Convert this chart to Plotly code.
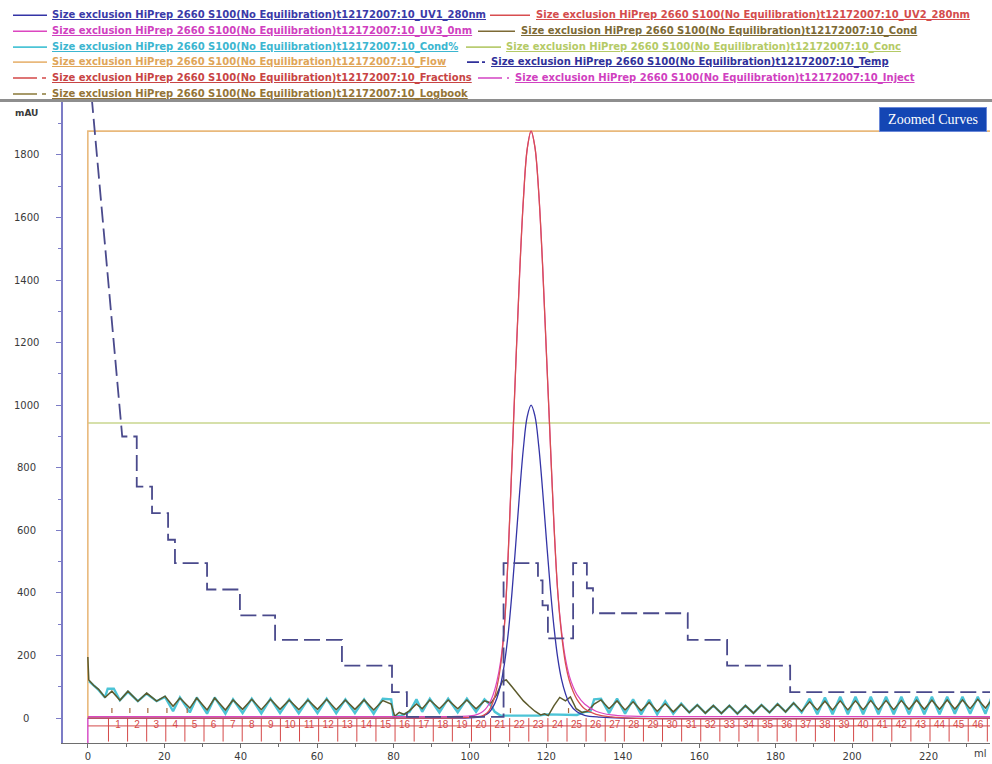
import plotly.graph_objects as go

# ---------------- data ----------------
PREFIX = "Size exclusion HiPrep 2660 S100(No Equilibration)t12172007:10_"

x_tick_vals = [0, 20, 40, 60, 80, 100, 120, 140, 160, 180, 200, 220]
y_tick_vals = [0, 200, 400, 600, 800, 1000, 1200, 1400, 1600, 1800]

uv1_ml = [0, 95, 100, 103, 104, 105, 106, 107, 108, 109, 110, 111, 112, 113, 114, 115, 116,
          117, 118, 119, 120, 121, 122, 123, 124, 125, 126, 128, 130, 134, 140, 236.5]
uv1_mau = [0, 0, 1, 5, 10, 18, 35, 62, 105, 172, 269, 401, 558, 720, 864, 964, 1000,
           966, 870, 730, 572, 420, 290, 190, 122, 78, 48, 20, 9, 3, 0, 0]

uv2_ml = [0, 95, 100, 103, 104, 105, 106, 107, 108, 109, 110, 111, 112, 113, 114, 115, 116,
          117, 118, 119, 120, 121, 122, 123, 124, 125, 126, 127, 128, 130, 133, 137, 142, 236.5]
uv2_mau = [0, 0, 2, 6, 12, 24, 50, 95, 165, 290, 520, 820, 1130, 1420, 1660, 1820, 1876,
           1825, 1680, 1450, 1170, 890, 615, 400, 265, 175, 120, 85, 60, 30, 12, 4, 0, 0]

uv3_ml = [0, 95, 100, 102, 103, 104, 105, 106, 107, 108, 109, 110, 111, 112, 113, 114, 115, 116,
          117, 118, 119, 120, 121, 122, 123, 124, 125, 126, 127, 128, 130, 133, 137, 142, 150, 236.5]
uv3_mau = [5, 5, 7, 12, 18, 28, 45, 72, 115, 180, 295, 520, 820, 1130, 1420, 1660, 1820, 1876,
           1825, 1680, 1450, 1170, 890, 615, 400, 275, 190, 135, 100, 75, 45, 22, 10, 6, 5, 5]

cond_ml = [0, 0.25, 1.5, 2.8, 4.5, 6.3, 8.4, 10.5, 13.1, 15.4, 18.0, 20.2, 22.3, 24.1, 26.7, 28.5,
           31.2, 33.2, 36.0, 38.0,
           40.5, 42.9, 45.4, 47.8, 50.3, 52.7, 55.2, 57.6, 60.1, 62.5, 65.0, 67.4, 69.9, 72.3,
           74.8, 77.2,
           79.4, 80.3, 81.5, 82.8, 84.2, 86.0, 87.5, 89.5, 92.0, 94.3, 96.8, 99.2, 101.6, 103.8,
           105.5, 107.0, 108.5, 109.5, 111.0, 112.5, 114.0, 115.5, 117.0, 118.5, 119.5, 120.5,
           122.0, 123.5, 125.0, 126.3, 127.8, 129.3, 130.8, 132.5, 134.3,
           136.4, 138.5, 140.6, 142.7, 144.8, 146.9, 149.0, 151.1, 153.2, 155.3, 157.4, 159.5,
           161.6, 163.7, 165.8, 167.9, 170.0, 172.1, 174.2, 176.3, 178.4, 180.5, 182.6, 184.7,
           186.8, 188.9,
           190.9, 192.9, 194.9, 196.9, 198.9, 200.9, 202.9, 204.9, 206.9, 208.9, 210.9, 212.9,
           214.9, 216.9, 218.9, 220.9, 222.9, 224.9, 226.9, 228.9, 230.9, 232.9, 234.9, 236.5]
cond_val = [195, 122, 105, 92, 66, 86, 57, 86, 54, 80, 54, 70, 38, 64, 32, 64, 26, 64, 26, 58,
            28, 60, 27, 60, 28, 58, 27, 58, 28, 60, 27, 58, 28, 58, 26, 56,
            45, 6, 18, 12, 24, 45, 30, 58, 30, 58, 30, 58, 30, 55, 48, 75, 118, 122, 100, 78,
            55, 38, 22, 10, 14, 8, 40, 66, 55, 68, 30, 18, 22, 45, 58,
            30, 55, 26, 52, 24, 50, 22, 46, 20, 44, 18, 42, 16, 40, 15, 40, 14, 40, 16, 42,
            18, 45, 20, 48, 22, 52,
            26, 54, 26, 55, 26, 55, 27, 56, 27, 56, 27, 56, 28, 57, 28, 57, 28, 58, 29, 58,
            30, 60, 32, 58]

condpct_ml = [0.3, 1.5, 2.8, 4.5, 5.2, 6.8, 8.4, 10.5, 13.1, 15.4, 18.0, 20.2,
              22.3, 24.1, 26.7, 28.5, 31.2, 33.2, 36.0, 38.0, 40.5, 42.9, 45.4, 47.8, 50.3,
              52.7, 55.2, 57.6, 60.1, 62.5, 65.0, 67.4, 69.9, 72.3, 74.8, 77.2, 79.4, 80.0,
              82.0, 84.2,
              86.0, 87.5, 89.5, 92.0, 94.3, 96.8, 99.2, 101.6, 103.8, 105.5,
              106.5, 108.0, 118.0, 120.0, 128.0, 130.0,
              131.5, 132.5, 134.3, 136.4, 138.5, 140.6, 142.7, 144.8, 146.9, 149.0, 151.1,
              153.2, 155.3,
              157.4, 159.5, 161.6, 163.7, 165.8, 167.9, 170.0, 172.1, 174.2, 176.3, 178.4,
              180.5, 182.6, 184.7, 186.8,
              188.9, 190.9, 192.9, 194.9, 196.9, 198.9, 200.9, 202.9, 204.9, 206.9, 208.9,
              210.9, 212.9, 214.9, 216.9, 218.9, 220.9, 222.9, 224.9, 226.9, 228.9, 230.9,
              232.9, 234.9, 236.5]
condpct_val = [118, 104, 90, 66, 94, 94, 57, 84, 54, 78, 54, 68,
               22, 66, 18, 66, 14, 66, 14, 60, 16, 62, 15, 62, 16, 60, 15, 60, 16, 62, 15, 60,
               16, 60, 14, 62, 60, 4, 8, 20,
               60, 20, 62, 18, 62, 18, 62, 20, 60, 40,
               20, 8, 8, 12, 10, 20,
               20, 60, 62, 16, 62, 14, 60, 12, 58, 12, 54, 14, 46,
               18, 42, 16, 40, 15, 40, 14, 40, 16, 42, 18, 45, 20, 48, 18,
               62, 12, 66, 12, 68, 12, 68, 12, 68, 12, 68, 12, 68, 12, 68, 12, 68, 12, 68, 14,
               68, 14, 68, 14, 66]

conc_ml = [0, 236.5]
conc_val = [943, 943]

flow_ml = [0, 0, 236.5]
flow_val = [0, 1876, 1876]

temp_ml = [1.0, 9.0, 12.8, 12.8, 16.8, 16.8, 21.0, 21.0, 22.8, 22.8, 31.2, 31.2, 39.8, 39.8,
           49.0, 49.0, 66.5, 66.5, 79.6, 79.6, 83.5, 83.5, 108.8, 108.8, 117.8, 117.8, 119.0,
           119.0, 120.4, 120.4, 127.0, 127.0, 130.6, 130.6, 132.2, 132.2, 157.0, 157.0, 167.3,
           167.3, 183.8, 183.8, 236.5]
temp_val = [1985, 900, 900, 740, 740, 655, 655, 570, 570, 495, 495, 411, 411, 328, 328, 250,
            250, 168, 168, 83, 83, 4, 4, 495, 495, 440, 440, 360, 360, 255, 255, 495, 495, 415,
            415, 335, 335, 250, 250, 168, 168, 83, 83]

frac_bounds_ml = [5.4, 10.4, 15.4, 20.4, 25.4, 30.4, 35.4, 40.4, 45.4, 50.4, 55.4, 60.4, 65.4,
                  70.4, 75.4, 80.4, 85.4, 90.4, 95.4, 100.4, 105.4, 110.4, 115.4, 120.4, 125.4,
                  130.4, 135.4, 140.4, 145.4, 150.4, 155.4, 160.4, 165.4, 170.4, 175.4, 180.4,
                  185.4, 190.4, 195.4, 200.4, 205.4, 210.4, 215.4, 220.4, 225.4, 230.4, 235.4]
frac_labels = ["1", "2", "3", "4", "5", "6", "7", "8", "9", "10", "11", "12", "13", "14", "15",
               "16", "17", "18", "19", "20", "21", "22", "23", "24", "25", "26", "27", "28", "29",
               "30", "31", "32", "33", "34", "35", "36", "37", "38", "39", "40", "41", "42", "43",
               "44", "45", "46"]
frac_ml = [0, 236.5]
frac_val = [-25, -25]
frac_tick_top, frac_tick_bottom = 0, -75

inject_ml = [0]
inject_top, inject_bottom = 0, -80

logbook_ml = [6.3, 11.0, 15.7, 20.7, 26.0, 110.6, 125.8]
logbook_top, logbook_bottom = 32, 16

# ---------------- styles ----------------
C_UV1 = "#3434a6"
C_UV2 = "#d84e50"
C_UV3 = "#dc46c0"
C_COND = "#5c5a2c"
C_CONDPCT = "#4cc4d6"
C_CONC = "#c9d68e"
C_FLOW = "#e9b97c"
C_TEMP = "#4a4a8c"
C_FRAC = "#d44848"
C_INJECT = "#d444c4"
C_LOG = "#a4683c"

L, R, T, B = 63, 2, 102, 19
W, H = 992, 764
PW, PH = W - L - R, H - T - B


def px(x):
    return (x - L) / PW


def py(y):
    return (H - B - y) / PH


fig = go.Figure()


def add_line(x, y, color, width=1.2, dash="solid", shape="linear"):
    fig.add_trace(go.Scatter(x=x, y=y, mode="lines", hoverinfo="skip",
                             line=dict(color=color, width=width, dash=dash, shape=shape)))


def segments(xs, y0, y1):
    sx, sy = [], []
    for v in xs:
        sx += [v, v, None]
        sy += [y0, y1, None]
    return sx, sy


add_line(conc_ml, conc_val, C_CONC, 1.6)
add_line(flow_ml, flow_val, C_FLOW, 1.6)
add_line(frac_ml, frac_val, C_FRAC, 1.0)
fx, fy = segments(frac_bounds_ml, frac_tick_top, frac_tick_bottom)
add_line(fx, fy, C_FRAC, 1.0)
ix, iy = segments(inject_ml, inject_top, inject_bottom)
add_line(ix, iy, C_INJECT, 1.4)

frac_centers = [(frac_bounds_ml[i] + frac_bounds_ml[i + 1]) / 2 for i in range(len(frac_labels))]
fig.add_trace(go.Scatter(x=frac_centers, y=[frac_val[0]] * len(frac_labels), mode="text",
                         text=frac_labels, hoverinfo="skip",
                         textfont=dict(family="Liberation Sans", size=10, color=C_FRAC)))

add_line(condpct_ml, condpct_val, C_CONDPCT, 2.4)
add_line(cond_ml, cond_val, C_COND, 1.5)
add_line(uv1_ml, uv1_mau, C_UV1, 1.3, shape="spline")
add_line(uv3_ml, uv3_mau, C_UV3, 1.2, shape="spline")
add_line(uv2_ml, uv2_mau, C_UV2, 1.3, shape="spline")
add_line(temp_ml, temp_val, C_TEMP, 1.8, dash="16px,6px")
lx, ly = segments(logbook_ml, logbook_top, logbook_bottom)
add_line(lx, ly, C_LOG, 1.2)

fig.update_layout(
    width=W, height=H, margin=dict(l=L, r=R, t=T, b=B),
    paper_bgcolor="white", plot_bgcolor="white", showlegend=False,
    font=dict(family="DejaVu Sans", size=10, color="#3a3a3a"),
)
fig.update_xaxes(
    range=[-6.5, 236.1], showgrid=False, zeroline=False, showline=True,
    linecolor="#6e6e6e", linewidth=1, ticks="outside", ticklen=4, tickcolor="#6e6e6e",
    tickmode="array", tickvals=x_tick_vals, tickfont=dict(size=10, color="#3a3a3a"),
    minor=dict(dtick=10, tick0=0, ticks="outside", ticklen=3, tickcolor="#6e6e6e"),
)
fig.update_yaxes(
    range=[-79.6, 1969], showgrid=False, zeroline=False, showline=True,
    linecolor="#7c7cc6", linewidth=2, ticks="outside", ticklen=5, tickcolor="#7c7cc6",
    tickmode="array", tickvals=y_tick_vals, showticklabels=False,
    minor=dict(dtick=100, tick0=0, ticks="outside", ticklen=3, tickcolor="#7c7cc6"),
)

ann = []
for v in y_tick_vals:
    ann.append(dict(x=px(26), xref="paper", y=v, yref="y", text=str(v), showarrow=False,
                    xanchor="center", yanchor="middle", font=dict(size=10, color="#3a3a3a")))
ann.append(dict(x=px(13), xref="paper", y=py(113), yref="paper", text="<b>mAU</b>",
                showarrow=False, xanchor="left", yanchor="middle",
                font=dict(size=9, color="#3a3a3a")))
ann.append(dict(x=px(989), xref="paper", y=py(756), yref="paper", text="ml", showarrow=False,
                xanchor="right", yanchor="middle", font=dict(size=10, color="#3a3a3a")))
ann.append(dict(x=px(932.5), xref="paper", y=py(119.5), yref="paper", text="Zoomed Curves",
                showarrow=False, xanchor="center", yanchor="middle", width=104, height=21,
                bgcolor="#1446b4", bordercolor="#6a88d8", borderwidth=1, borderpad=1,
                font=dict(family="Liberation Serif", size=14, color="white")))

shapes = [dict(type="line", xref="paper", yref="paper", x0=px(0), x1=px(W), y0=py(100.5),
               y1=py(100.5), line=dict(color="#8e8e8e", width=3))]

DASH_SAMPLE = "24px,5px,4px,200px"
legend_left = [
    ("UV1_280nm", C_UV1, "solid", 15),
    ("UV3_0nm", C_UV3, "solid", 31),
    ("Cond%", C_CONDPCT, "solid", 47),
    ("Flow", C_FLOW, "solid", 62),
    ("Fractions", C_FRAC, DASH_SAMPLE, 78),
    ("Logbook", "#8a7a3a", DASH_SAMPLE, 94),
]
legend_right = [
    ("UV2_280nm", C_UV2, "solid", 15, 490, 530, 534),
    ("Cond", "#7d6a35", "solid", 31, 478, 515, 519),
    ("Conc", "#b9cc72", "solid", 47, 466, 501, 504),
    ("Temp", "#30309a", "12px,3px,3px,100px", 62, 467, 486, 489),
    ("Inject", C_INJECT, DASH_SAMPLE, 78, 478, 509, 513),
]
text_colors = {"UV1_280nm": "#3a3aa8", "UV3_0nm": "#d040c0", "Cond%": "#3cb6d0",
               "Flow": "#e0a558", "Fractions": "#c84444", "Logbook": "#947436",
               "UV2_280nm": "#d44c4c", "Cond": "#7d6a35", "Conc": "#b4ca66",
               "Temp": "#30309a", "Inject": "#d040c0"}

items = [(n, c, d, y, 13, 47, 50) for (n, c, d, y) in legend_left] + legend_right
for name, color, dash, y, sx0, sx1, tx in items:
    shapes.append(dict(type="line", xref="paper", yref="paper", x0=px(sx0), x1=px(sx1),
                       y0=py(y), y1=py(y), line=dict(color=color, width=1.6, dash=dash)))
    ann.append(dict(x=px(tx), xref="paper", y=py(y), yref="paper",
                    text="<b><u>" + PREFIX + name + "</u></b>", showarrow=False,
                    xanchor="left", yanchor="middle",
                    font=dict(family="DejaVu Sans", size=10, color=text_colors[name])))

fig.update_layout(annotations=ann, shapes=shapes)

fig.write_html("out.html", config={"displayModeBar": False})
